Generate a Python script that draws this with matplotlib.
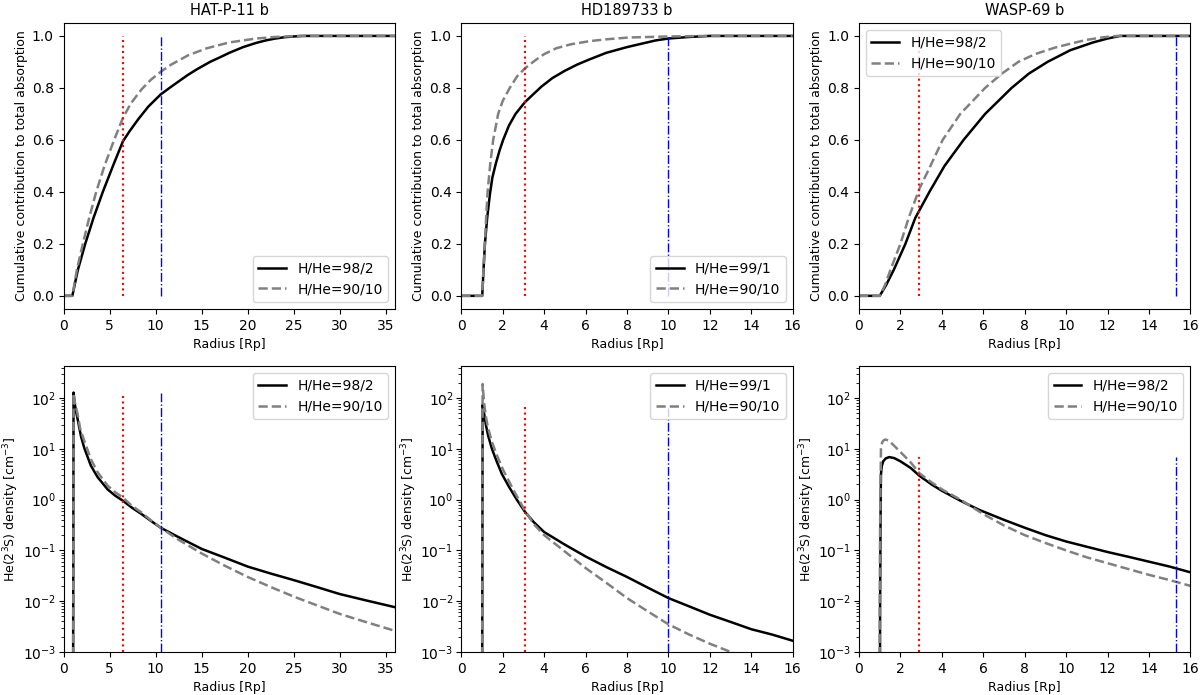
import numpy as np
import matplotlib
matplotlib.use('Agg')
import matplotlib.pyplot as plt

plt.rcParams['font.size'] = 9
plt.rcParams['axes.titlesize'] = 10.5
plt.rcParams['xtick.labelsize'] = 10
plt.rcParams['ytick.labelsize'] = 10

planets = ['HAT-P-11 b', 'HD189733 b', 'WASP-69 b']
labels_solid = ['H/He=98/2', 'H/He=99/1', 'H/He=98/2']
label_dash = 'H/He=90/10'
xmax = [36, 16, 16]
xstep = [5, 2, 2]

# vertical marker radii (red dotted / blue dash-dot)
r_red = [6.45, 3.08, 2.92]
r_blue = [10.55, 10.0, 15.3]
# top of the markers in the density panels
vtop_red = [110, 73, 7.0]
vtop_blue = [125, 65, 7.0]

# --- cumulative contribution (top row) ---
hat_cum_x_s = [0, 0.95, 1.55, 2.35, 3.25, 4.26, 5.42, 6.45, 7.2, 8.12, 9.2, 10.55, 11.7, 12.5,
               13.5, 14.5, 15.9, 17, 18, 19.5, 20.9, 22, 23, 24, 25, 26, 36]
hat_cum_solid = [0, 0, 0.1, 0.2, 0.3, 0.4, 0.505, 0.595, 0.635, 0.68, 0.728, 0.775, 0.805,
                 0.825, 0.85, 0.872, 0.9, 0.918, 0.935, 0.957, 0.973, 0.983, 0.99, 0.995, 0.998,
                 1.0, 1.0]
hat_cum_x_d = [0, 0.95, 1.44, 2.09, 2.78, 3.54, 4.44, 5.49, 6.45, 7.3, 8.48, 9.5, 10.55, 11.7,
               13.5, 15.5, 18, 20.9, 23, 25.5, 36]
hat_cum_dash = [0, 0, 0.1, 0.2, 0.3, 0.4, 0.5, 0.6, 0.685, 0.74, 0.795, 0.832, 0.862, 0.89,
                0.925, 0.952, 0.975, 0.99, 0.996, 1.0, 1.0]

hd_cum_x_s = [0, 1.01, 1.08, 1.14, 1.25, 1.38, 1.5, 1.67, 1.85, 2.02, 2.3, 2.62, 3.07, 3.4,
              3.87, 4.4, 5.0, 5.6, 6.2, 7.0, 8.0, 9.4, 10.0, 11.0, 12.0, 16]
hd_cum_solid = [0, 0, 0.11, 0.2, 0.3, 0.39, 0.455, 0.51, 0.56, 0.6, 0.655, 0.7, 0.745, 0.77,
                0.805, 0.838, 0.866, 0.89, 0.91, 0.935, 0.957, 0.983, 0.99, 0.996, 1.0, 1.0]
hd_cum_x_d = [0, 1.01, 1.08, 1.14, 1.2, 1.27, 1.4, 1.54, 1.78, 2.0, 2.34, 2.7, 3.07, 3.55, 4.0,
              4.6, 5.3, 6.2, 7.0, 8.1, 10.0, 12.0, 16]
hd_cum_dash = [0, 0, 0.12, 0.2, 0.3, 0.4, 0.51, 0.6, 0.7, 0.75, 0.8, 0.845, 0.875, 0.905, 0.93,
               0.953, 0.968, 0.98, 0.987, 0.994, 0.998, 1.0, 1.0]

wasp_cum_x_s = [0, 1.0, 1.3, 1.68, 2.24, 2.72, 3.40, 4.13, 5.05, 6.09, 7.37, 8.2, 9.1, 10.2,
                11.3, 12.0, 12.6, 16]
wasp_cum_solid = [0, 0, 0.04, 0.1, 0.2, 0.3, 0.4, 0.5, 0.6, 0.7, 0.8, 0.855, 0.9, 0.945, 0.975,
                  0.99, 1.0, 1.0]
wasp_cum_x_d = [0, 1.0, 1.25, 1.52, 2.0, 2.4, 2.92, 3.45, 4.04, 4.89, 6.09, 6.9, 7.69, 8.5,
                9.46, 10.3, 11.0, 11.8, 12.5, 16]
wasp_cum_dash = [0, 0, 0.04, 0.1, 0.2, 0.3, 0.413, 0.5, 0.6, 0.7, 0.8, 0.855, 0.9, 0.93, 0.955,
                 0.972, 0.985, 0.995, 1.0, 1.0]

# --- He(2^3S) density (bottom row) ---
hat_den_x_s = [0, 1.0, 1.08, 1.2, 1.35, 1.52, 1.88, 2.24, 2.96, 3.68, 4.77, 5.6, 6.45, 7.4,
               8.4, 9.5, 10.55, 12.3, 15, 17.5, 20, 22.5, 25, 27.5, 30, 33, 36]
hat_den_solid = [1e-8, 1e-8, 129, 80, 55, 39, 18, 10.5, 4.7, 2.8, 1.6, 1.2, 0.95, 0.7, 0.53,
                 0.38, 0.28, 0.19, 0.107, 0.072, 0.048, 0.035, 0.026, 0.019, 0.0138, 0.0102,
                 0.0076]
hat_den_x_d = [0, 1.0, 1.08, 1.2, 1.35, 1.52, 1.8, 2.24, 2.96, 3.68, 4.77, 5.6, 6.45, 7.4, 8.4,
               9.5, 10.55, 12.3, 15, 17.5, 20, 22.5, 25, 27.5, 30, 33, 36]
hat_den_dash = [1e-8, 1e-8, 125, 85, 65, 49, 25, 14.5, 6.3, 3.5, 1.9, 1.4, 1.1, 0.76, 0.57,
                0.39, 0.28, 0.17, 0.087, 0.05, 0.03, 0.019, 0.0123, 0.0083, 0.0056, 0.0038,
                0.0026]

hd_den_x_s = [0, 0.99, 1.03, 1.1, 1.2, 1.3, 1.48, 1.7, 1.96, 2.3, 2.68, 3.08, 3.5, 4, 5, 6,
              7, 8, 9, 10, 11, 12, 13, 14, 15, 16]
hd_den_solid = [1e-8, 1e-8, 74, 50, 28, 18, 10, 5.8, 3.2, 1.8, 1.0, 0.57, 0.36, 0.23, 0.13,
                0.076, 0.047, 0.030, 0.0185, 0.0115, 0.0079, 0.0054, 0.0039, 0.0028, 0.0022,
                0.00166]
hd_den_x_d = [0, 0.99, 1.03, 1.1, 1.2, 1.3, 1.5, 1.75, 2.0, 2.5, 3.08, 3.5, 4, 5, 6, 7, 8, 9,
              10, 11, 12, 13, 14, 16]
hd_den_dash = [1e-8, 1e-8, 190, 80, 40, 25, 13, 7, 4.0, 1.6, 0.6, 0.33, 0.2, 0.095, 0.045,
               0.023, 0.0115, 0.0063, 0.0035, 0.0022, 0.00145, 0.001, 0.0007, 0.0003]

wasp_den_x_s = [0, 0.99, 1.02, 1.04, 1.06, 1.1, 1.17, 1.29, 1.46, 1.7, 2.0, 2.5, 2.92, 3.5,
                4, 4.9, 5.8, 7, 8, 9, 10, 11, 12, 13, 14, 15, 16]
wasp_den_solid = [1e-8, 1e-8, 0.01, 0.4, 3.16, 4.6, 5.7, 6.5, 6.9, 6.6, 5.7, 4.2, 2.95, 2.0,
                  1.5, 0.95, 0.63, 0.4, 0.28, 0.2, 0.15, 0.118, 0.093, 0.075, 0.060, 0.048,
                  0.037]
wasp_den_x_d = [0, 0.99, 1.0, 1.02, 1.06, 1.12, 1.2, 1.29, 1.45, 1.7, 2.0, 2.5, 2.92, 3.5, 4,
                4.9, 6, 7, 8, 9, 10, 11, 12, 13, 14, 15, 16]
wasp_den_dash = [1e-8, 1e-8, 0.01, 0.3, 10, 13.5, 14.9, 15.3, 14.5, 11.5, 8.7, 5.4, 3.3, 2.2,
                 1.6, 1.0, 0.52, 0.31, 0.2, 0.14, 0.10, 0.073, 0.056, 0.043, 0.033, 0.026, 0.02]

cum = [(hat_cum_x_s, hat_cum_solid, hat_cum_x_d, hat_cum_dash),
       (hd_cum_x_s, hd_cum_solid, hd_cum_x_d, hd_cum_dash),
       (wasp_cum_x_s, wasp_cum_solid, wasp_cum_x_d, wasp_cum_dash)]
den = [(hat_den_x_s, hat_den_solid, hat_den_x_d, hat_den_dash),
       (hd_den_x_s, hd_den_solid, hd_den_x_d, hd_den_dash),
       (wasp_den_x_s, wasp_den_solid, wasp_den_x_d, wasp_den_dash)]
cum_loc = ['lower right', 'lower right', 'upper left']

fig, axes = plt.subplots(2, 3, figsize=(12, 6.95), dpi=100)
fig.subplots_adjust(left=0.053, right=0.992, top=0.967, bottom=0.062, wspace=0.2, hspace=0.2)

for i in range(3):
    xticks = np.arange(0, xmax[i] + 0.1, xstep[i])

    ax = axes[0, i]
    xs, ys, xd, yd = cum[i]
    ax.plot(xs, ys, color='black', lw=1.8, label=labels_solid[i])
    ax.plot(xd, yd, color='gray', ls='--', lw=1.8, label=label_dash)
    ax.vlines(r_red[i], 0, 1, color='red', ls=':', lw=1.5)
    ax.vlines(r_blue[i], 0, 1, color='blue', ls='-.', lw=1.0)
    ax.set_xlim(0, xmax[i])
    ax.set_xticks(xticks)
    ax.set_ylim(-0.05, 1.05)
    ax.set_title(planets[i])
    ax.set_xlabel('Radius [Rp]')
    ax.set_ylabel('Cumulative contribution to total absorption', labelpad=3)
    ax.legend(loc=cum_loc[i], fontsize=10)

    ax = axes[1, i]
    xs, ys, xd, yd = den[i]
    ax.plot(xs, ys, color='black', lw=1.8, label=labels_solid[i])
    ax.plot(xd, yd, color='gray', ls='--', lw=1.8, label=label_dash)
    ax.vlines(r_red[i], 1e-3, vtop_red[i], color='red', ls=':', lw=1.5)
    ax.vlines(r_blue[i], 1e-3, vtop_blue[i], color='blue', ls='-.', lw=1.0)
    ax.set_yscale('log')
    ax.set_xlim(0, xmax[i])
    ax.set_xticks(xticks)
    ax.set_ylim(1e-3, 430)
    ax.tick_params(axis='y', which='major', pad=2)
    ax.set_xlabel('Radius [Rp]')
    ax.set_ylabel('He(2$^3$S) density [cm$^{-3}$]', labelpad=1)
    ax.legend(loc='upper right', fontsize=10)

plt.savefig('out.png', dpi=100)
